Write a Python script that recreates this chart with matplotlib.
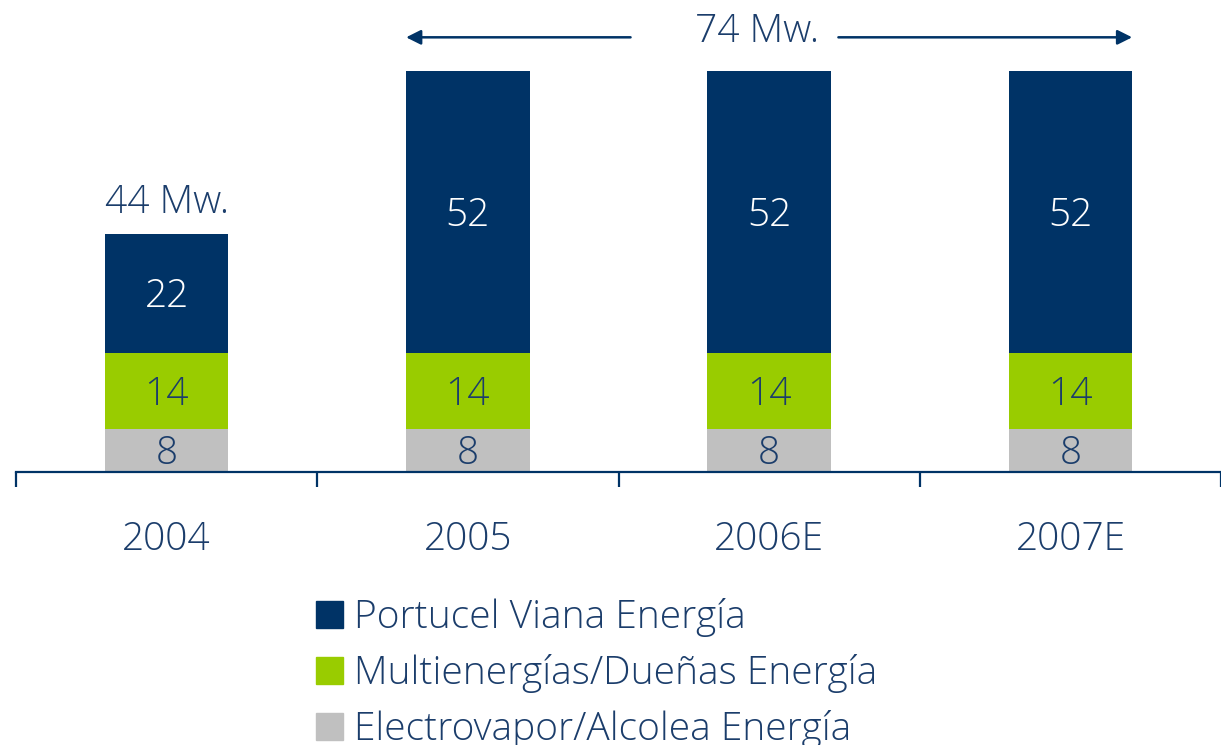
import matplotlib
matplotlib.use("Agg")
import matplotlib.pyplot as plt
from matplotlib.patches import Patch
import numpy as np

# Data
years = ["2004", "2005", "2006E", "2007E"]
electrovapor = [8, 8, 8, 8]
multienergias = [14, 14, 14, 14]
portucel = [22, 52, 52, 52]
series_names = ["Portucel Viana Energía", "Multienergías/Dueñas Energía", "Electrovapor/Alcolea Energía"]

navy = "#003366"
green = "#99CC00"
grey = "#C0C0C0"
text_col = "#1B3D6B"

plt.rcParams["font.family"] = ["Open Sans", "DejaVu Sans"]
plt.rcParams["font.weight"] = "light"

fig = plt.figure(figsize=(12.21, 7.45), dpi=100)
ax = fig.add_axes([16 / 1221, 1 - 472 / 745, 1 - 16 / 1221, 472 / 745])

x = np.arange(len(years))
w = 0.41
ax.bar(x, electrovapor, w, color=grey)
ax.bar(x, multienergias, w, bottom=electrovapor, color=green)
bottom3 = np.array(electrovapor) + np.array(multienergias)
ax.bar(x, portucel, w, bottom=bottom3, color=navy)


def seg_label(xx, yy, s, col):
    # digits visually centred on the segment
    ax.annotate(s, xy=(xx, yy), xytext=(0, -10), textcoords="offset points",
                ha="center", va="baseline", fontsize=28, color=col)


for i in range(len(years)):
    seg_label(x[i], electrovapor[i] / 2, str(electrovapor[i]), text_col)
    seg_label(x[i], electrovapor[i] + multienergias[i] / 2, str(multienergias[i]), text_col)
    seg_label(x[i], bottom3[i] + portucel[i] / 2, str(portucel[i]), "white")

totals = bottom3 + np.array(portucel)
seg_label(x[0], totals[0] + 6.3, "%d Mw." % totals[0], text_col)

# 74 Mw. arrow spanning 2005-2007E
ytop = 80.2
xt = 1.96
seg_label(xt, 81.9, "%d Mw." % totals[1], text_col)
ax.annotate("", xy=(x[1] - w / 2, ytop), xytext=(xt - 0.42, ytop),
            arrowprops=dict(arrowstyle="-|>", color=navy, lw=1.8, mutation_scale=22,
                            shrinkA=0, shrinkB=0))
ax.annotate("", xy=(x[3] + w / 2, ytop), xytext=(xt + 0.27, ytop),
            arrowprops=dict(arrowstyle="-|>", color=navy, lw=1.8, mutation_scale=22,
                            shrinkA=0, shrinkB=0))

ax.set_xlim(-0.5, 3.451)
ax.set_ylim(0, 472 / 5.42)

for s in ["top", "right", "left"]:
    ax.spines[s].set_visible(False)
ax.spines["bottom"].set_color(navy)
ax.spines["bottom"].set_linewidth(1.6)
ax.set_yticks([])
ax.set_xticks(x)
ax.set_xticklabels(years, fontsize=28, color=text_col)
ax.tick_params(axis="x", which="major", length=0, pad=35)
ax.set_xticks(np.arange(-0.5, 4, 1), minor=True)
ax.tick_params(axis="x", which="minor", length=11, width=1.6, color=navy)

handles = [Patch(color=navy), Patch(color=green), Patch(color=grey)]
leg = fig.legend(handles, series_names, loc="upper left",
                 bbox_to_anchor=(316 / 1221, 1 - 598 / 745), frameon=False,
                 fontsize=28, handlelength=0.69, handleheight=0.69, handletextpad=0.3,
                 labelspacing=0.44, borderpad=0, borderaxespad=0)
for t in leg.get_texts():
    t.set_color(text_col)

fig.savefig("out.png", dpi=100)
